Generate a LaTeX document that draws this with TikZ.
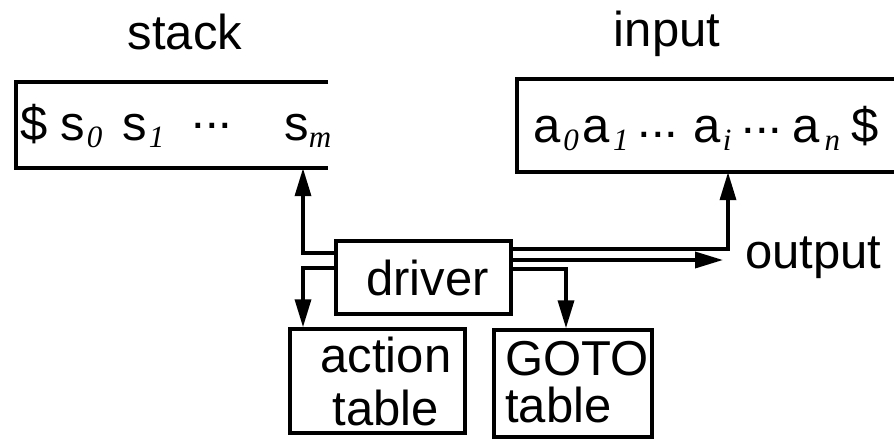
\documentclass[tikz,border=0pt]{standalone}
\usepackage{fontspec}
\setmainfont{Liberation Sans}
\newfontfamily\subfont{Liberation Serif}
\usetikzlibrary{arrows.meta,positioning,calc}
\newcommand\lsub[1]{\raisebox{-8pt}{\fontsize{31}{31}\selectfont\subfont\itshape #1}}

\begin{document}
\begin{tikzpicture}[
x=1pt, y=1pt,
txt/.style={
  inner sep=0pt,
  font=\fontsize{49}{53}\selectfont
  },
box/.style={
  draw,
  line width=3.5pt,
  inner sep=0pt
  },
tape/.style={
  draw=none,
  inner sep=0pt
  },
link/.style={
  ->,
  line width=3.5pt
  },
>={Triangle[length=28pt,width=16pt]}
]
\useasboundingbox (0,0) rectangle (894,440);

\node[tape, minimum width=312pt, minimum height=86pt] at (172,315) (stack) {};
\draw[line width=3.5pt] (stack.north east) -- (stack.north west) -- (stack.south west) -- (stack.south east);
\node[tape, minimum width=383pt, minimum height=93pt] at (708.5,314.5) (input) {};
\draw[line width=3.5pt] (input.north east) -- (input.north west) -- (input.south west) -- (input.south east);

\node[txt, anchor=base] at (185,390) (stacklbl) {stack};
\node[txt, anchor=base] at (667,393) (inputlbl) {input};

\node[txt, anchor=base west] at (20,300) (stackrow) {\$\hspace{13pt}s\hspace{2pt}\lsub{0}\hspace{20pt}s\hspace{2pt}\lsub{1}\hspace{27pt}\raisebox{11pt}{...}\hspace{52pt}s\lsub{m}};
\node[txt, anchor=base west] at (533,298) (inputrow) {a\hspace{3pt}\lsub{0}\hspace{4pt}a\hspace{3pt}\lsub{1}\hspace{9pt}\raisebox{5pt}{...}\hspace{15pt}a\hspace{2pt}\lsub{i}\hspace{10pt}\raisebox{9pt}{...}\hspace{10pt}a\hspace{5pt}\lsub{n}\hspace{11pt}\$};

\node[box, txt, minimum width=175pt, minimum height=73pt] at (423.5,162.5) (driver) {\hspace{8pt}driver};

\node[box, minimum width=175pt, minimum height=104pt] at (377.5,59) (action) {};
\node[txt, align=center, anchor=base] at (386,15) (actiontxt) {action\\table};
\node[box, minimum width=158pt, minimum height=107pt] at (573,56.5) (goto) {};
\node[txt, align=left, anchor=base west] at (505,18) (gototxt) {GOTO\\[-6pt]table};

\node[txt, anchor=base west] at (745,172) (output) {output};
\coordinate (outtip) at (723,180);

\draw[link] (driver.west |- 0,187) -| (stack.south -| 303,0);
\draw[link] (driver.west |- 0,172) -| (action.north -| 303,0);
\draw[link] (driver.east |- 0,191) -| (input.south -| 728,0);
\draw[link] (driver.east |- 0,180) -- (outtip);
\draw[link] (driver.east |- 0,171) -| (goto.north -| 566,0);
\end{tikzpicture}
\end{document}
